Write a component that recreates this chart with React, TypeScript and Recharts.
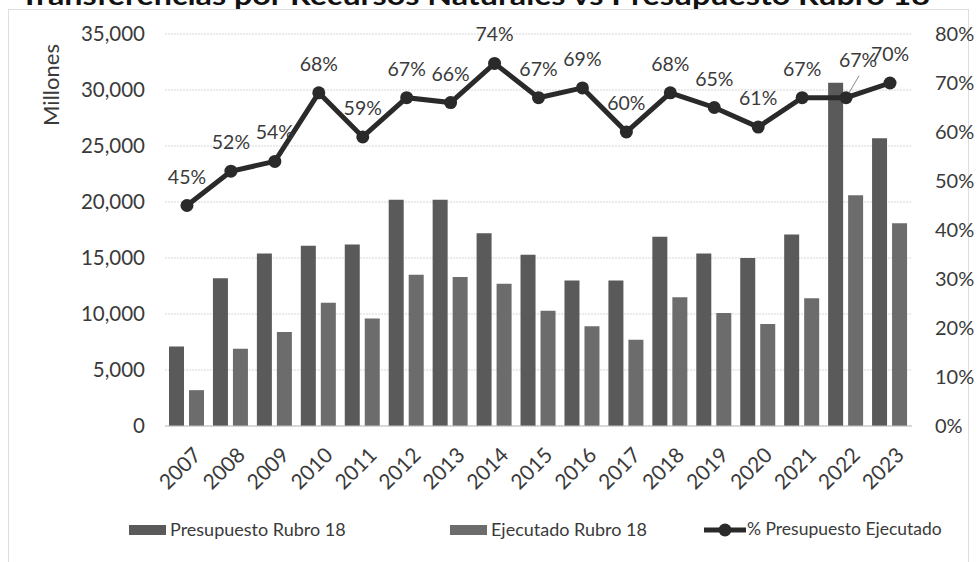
import React from 'react';
import { ComposedChart, Bar, Line, XAxis, YAxis, CartesianGrid, LabelList } from 'recharts';

const years = ['2007', '2008', '2009', '2010', '2011', '2012', '2013', '2014', '2015', '2016', '2017', '2018', '2019', '2020', '2021', '2022', '2023'];
const presupuesto = [7100, 13200, 15400, 16100, 16200, 20200, 20200, 17200, 15300, 13000, 13000, 16900, 15400, 15000, 17100, 30650, 25700];
const ejecutado = [3200, 6900, 8400, 11000, 9600, 13500, 13300, 12700, 10300, 8900, 7700, 11500, 10100, 9100, 11400, 20600, 18100];
const pctEjecutado = [45, 52, 54, 68, 59, 67, 66, 74, 67, 69, 60, 68, 65, 61, 67, 67, 70];
const leftTicks = [0, 5000, 10000, 15000, 20000, 25000, 30000, 35000];
const rightTicks = [0, 0.1, 0.2, 0.3, 0.4, 0.5, 0.6, 0.7, 0.8];
const seriesNames = ['Presupuesto Rubro 18', 'Ejecutado Rubro 18', '% Presupuesto Ejecutado'];
const titleText = 'Transferencias por Recursos Naturales vs Presupuesto Rubro 18';
const axisLabel = 'Millones';

const data = years.map((y, i) => ({
  year: y,
  presupuesto: presupuesto[i],
  ejecutado: ejecutado[i],
  pct: pctEjecutado[i] / 100,
}));

const FONT = 'Lato, "Open Sans", sans-serif';
const TEXT = '#3a3a3a';
const C_PRES = '#5a5a5a';
const C_EJEC = '#6c6c6c';
const C_LINE = '#2a2a2a';

const XTick = (props: any) => {
  const { x, y, payload } = props;
  return (
    <g transform={`translate(${x + 5},${y + 12})`}>
      <text textAnchor="end" transform="rotate(-45)" dy="0.7em" fontSize={21} fill={TEXT} fontFamily={FONT}>
        {payload.value}
      </text>
    </g>
  );
};

const PctLabel = (props: any) => {
  const { x, y, value, index } = props;
  const special = index === 15;
  const dx = special ? 12 : 0;
  const dy = special ? -9 : 0;
  return (
    <g>
      {special && <line x1={x + 3} y1={y - 5} x2={x + 13} y2={y - 22} stroke="#8a8a8a" strokeWidth={1} />}
      <text x={x + dx} y={y - 22 + dy} textAnchor="middle" fontSize={19.5} fill={TEXT} fontFamily={FONT}>
        {Math.round(value * 100)}%
      </text>
    </g>
  );
};

export default function App() {
  return (
    <div style={{ position: 'absolute', left: 0, top: 0, width: 979, height: 562, background: '#fff', overflow: 'hidden' }}>
      <svg width={979} height={562} style={{ position: 'absolute', left: 0, top: 0 }}>
        <text x={20} y={5} fontSize={26} fontWeight="bold" fill="#111" fontFamily={FONT} textLength={910} lengthAdjust="spacingAndGlyphs">
          {titleText}
        </text>
        <rect x={8.5} y={9.5} width={960} height={600} fill="none" stroke="#bdbdbd" strokeWidth={1} strokeDasharray="1 1" />
        <text transform="translate(59,85) rotate(-90)" textAnchor="middle" fontSize={22} fill={TEXT} fontFamily={FONT}>
          {axisLabel}
        </text>
      </svg>
      <div style={{ position: 'absolute', left: 0, top: 0 }}>
        <ComposedChart width={979} height={562} data={data} margin={{ top: 34, right: 10, left: 0, bottom: 0 }} barGap={5}>
          <CartesianGrid yAxisId="left" vertical={false} stroke="#d6d6d6" strokeDasharray="2 1" />
          <XAxis
            dataKey="year"
            height={136}
            tick={<XTick />}
            tickLine={false}
            axisLine={{ stroke: '#bfbfbf' }}
            interval={0}
          />
          <YAxis
            yAxisId="left"
            width={165}
            domain={[0, 35000]}
            ticks={leftTicks}
            tickFormatter={(v: number) => v.toLocaleString('en-US')}
            axisLine={false}
            tickLine={false}
            tickSize={0}
            tickMargin={20}
            tick={{ fontSize: 20.5, fill: TEXT, fontFamily: FONT }}
            allowDataOverflow
          />
          <YAxis
            yAxisId="right"
            orientation="right"
            width={57}
            domain={[0, 0.8]}
            ticks={rightTicks}
            tickFormatter={(v: number) => `${Math.round(v * 100)}%`}
            axisLine={false}
            tickLine={false}
            tickSize={0}
            tickMargin={23}
            tick={{ fontSize: 20, fill: TEXT, fontFamily: FONT, textAnchor: 'start' }}
            allowDataOverflow
          />
          <Bar yAxisId="left" dataKey="presupuesto" name={seriesNames[0]} fill={C_PRES} barSize={15} isAnimationActive={false} />
          <Bar yAxisId="left" dataKey="ejecutado" name={seriesNames[1]} fill={C_EJEC} barSize={15} isAnimationActive={false} />
          <Line
            yAxisId="right"
            dataKey="pct"
            name={seriesNames[2]}
            stroke={C_LINE}
            strokeWidth={5}
            dot={{ r: 6.5, fill: C_LINE, stroke: C_LINE, strokeWidth: 0 }}
            activeDot={false}
            isAnimationActive={false}
          >
            <LabelList dataKey="pct" content={<PctLabel />} />
          </Line>
        </ComposedChart>
      </div>
      <div
        style={{
          position: 'absolute',
          left: 0,
          top: 516,
          width: 979,
          height: 30,
          fontFamily: FONT,
          fontSize: 18,
          color: TEXT,
        }}
      >
        <div style={{ position: 'absolute', left: 129, top: 9, width: 37, height: 10, background: C_PRES }} />
        <div style={{ position: 'absolute', left: 170, top: 2, whiteSpace: 'nowrap' }}>{seriesNames[0]}</div>
        <div style={{ position: 'absolute', left: 450, top: 9, width: 37, height: 10, background: C_EJEC }} />
        <div style={{ position: 'absolute', left: 491, top: 2, whiteSpace: 'nowrap' }}>{seriesNames[1]}</div>
        <svg style={{ position: 'absolute', left: 704, top: 4 }} width={42} height={20}>
          <line x1={0} y1={10} x2={42} y2={10} stroke={C_LINE} strokeWidth={5} />
          <circle cx={21} cy={10} r={6.5} fill={C_LINE} />
        </svg>
        <div style={{ position: 'absolute', left: 747, top: 2, whiteSpace: 'nowrap', fontSize: 17.5 }}>{seriesNames[2]}</div>
      </div>
    </div>
  );
}
